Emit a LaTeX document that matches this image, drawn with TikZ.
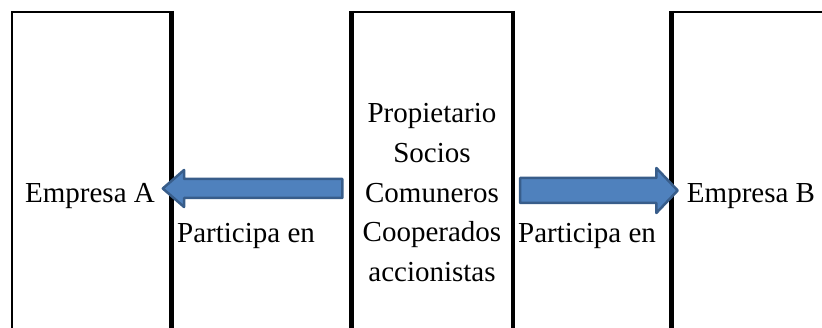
\documentclass[tikz,border=0pt]{standalone}
\usepackage{fontspec}
\setmainfont{Liberation Serif}
\usetikzlibrary{shapes.arrows}
\definecolor{relleno}{HTML}{4F81BD}
\definecolor{borde}{HTML}{385D8A}
\tikzset{
  caja/.style={draw,line width=2pt,minimum height=360pt,inner sep=0pt},
  texto/.style={font=\fontsize{29}{39.75}\selectfont,align=center,inner sep=0pt},
  flecha/.style={single arrow,fill=relleno,draw=borde,line width=2.5pt,line join=round,inner xsep=0pt}
}
\begin{document}
\begin{tikzpicture}[x=1pt,y=-1pt]
\useasboundingbox (0,0) rectangle (822,328);
\clip (0,0) rectangle (822,328);
% cajas
\node[caja,minimum width=158.5pt] (empA) at (91.25,192) {};
\node[caja,minimum width=159.5pt] (socios) at (432.25,192) {};
\node[caja,minimum width=159.5pt] (empB) at (752.25,192) {};
\draw[line width=5pt] (empA.north east) -- (empA.south east);
\draw[line width=5pt] (socios.north west) -- (socios.south west);
\draw[line width=4pt] (socios.north east) -- (socios.south east);
\draw[line width=5pt] (empB.north west) -- (empB.south west);
% flechas
\node[flecha,shape border rotate=180,minimum height=179.5pt,inner ysep=8.25pt,
  single arrow head extend=9pt,single arrow tip angle=82] (flechaA) at (258,188.5) {};
\node[flecha,minimum height=157.5pt,inner ysep=11.25pt,
  single arrow head extend=10pt,single arrow tip angle=93] (flechaB) at (593,190.5) {};
% textos
\node[texto,anchor=base] (tA) at (90,203) {Empresa A};
\node[texto,anchor=base] (tB) at (751,203) {Empresa B};
\node[texto] (tsocios) at (432,192.6) {Propietario\\Socios\\Comuneros\\Cooperados\\accionistas};
\node[texto,anchor=base] (partA) at (246,243) {Participa en};
\node[texto,anchor=base] (partB) at (587,243) {Participa en};
\end{tikzpicture}
\end{document}
